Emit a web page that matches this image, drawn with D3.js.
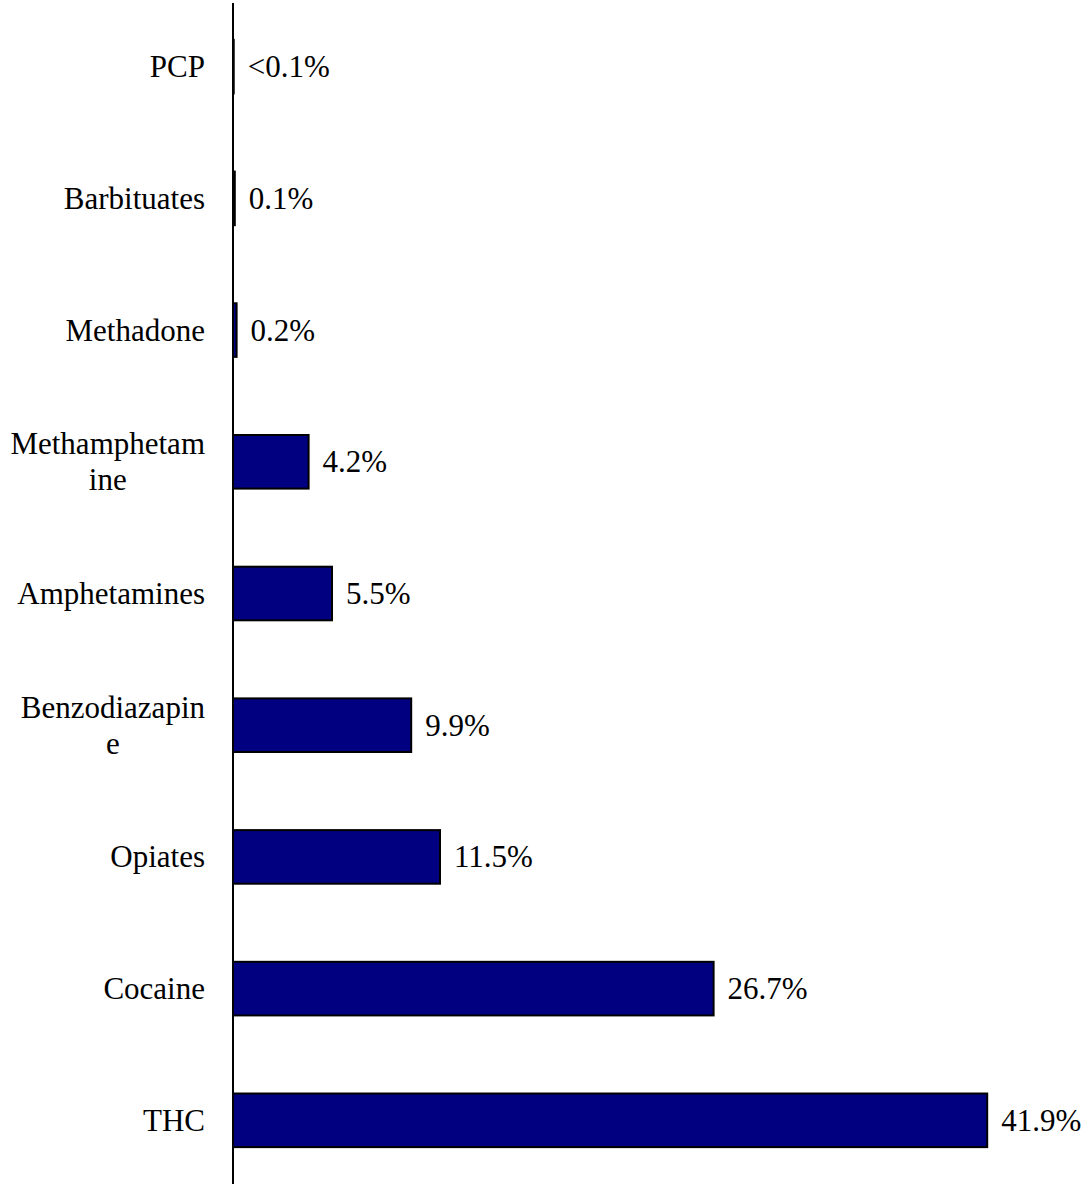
<!DOCTYPE html>
<html>
<head>
<meta charset="utf-8">
<script src="https://cdn.jsdelivr.net/npm/d3@7"></script>
<style>
body { margin: 0; background: #fff; }
text { font-family: "Liberation Serif", "Times New Roman", serif; font-size: 31px; fill: #000; }
</style>
</head>
<body>
<script>
// categories top to bottom, long names wrapped as in the original
var categories = ["PCP", "Barbituates", "Methadone", "Methamphetam\nine", "Amphetamines",
                  "Benzodiazapin\ne", "Opiates", "Cocaine", "THC"];
var values = [0.04, 0.1, 0.2, 4.2, 5.5, 9.9, 11.5, 26.7, 41.9];
var valueLabels = ["<0.1%", "0.1%", "0.2%", "4.2%", "5.5%", "9.9%", "11.5%", "26.7%", "41.9%"];

var width = 1082, height = 1186;
var axisX = 233, labelRight = 205;

var svg = d3.select("body").append("svg")
    .attr("width", width)
    .attr("height", height);

var x = d3.scaleLinear().domain([0, 45]).range([axisX, axisX + 45 * 18]);
var y = d3.scaleBand().domain(d3.range(categories.length))
    .range([3, 1184])
    .paddingInner(0.593)
    .paddingOuter(0.28);

// bars
svg.selectAll("rect.bar")
    .data(values)
    .enter()
    .append("rect")
    .attr("class", "bar")
    .attr("x", x(0))
    .attr("y", (d, i) => y(i))
    .attr("width", d => x(d) - x(0))
    .attr("height", y.bandwidth())
    .style("fill", "#000080")
    .style("stroke", "#000")
    .style("stroke-width", 2);

// value labels
svg.selectAll("text.value")
    .data(values)
    .enter()
    .append("text")
    .attr("class", "value")
    .attr("x", d => x(d) + 14)
    .attr("y", (d, i) => y(i) + y.bandwidth() / 2 + 10.5)
    .text((d, i) => valueLabels[i]);

// category labels, each line centred, block right aligned to the axis
var lineHeight = 36;
categories.forEach(function(name, i) {
    var lines = name.split("\n");
    var cy = y(i) + y.bandwidth() / 2 + 10.5 - (lines.length - 1) * lineHeight / 2;
    var t = svg.append("text").attr("class", "cat").attr("text-anchor", "middle");
    lines.forEach(function(line, j) {
        t.append("tspan").attr("x", 0).attr("y", cy + j * lineHeight).text(line);
    });
    var w = d3.max(t.selectAll("tspan").nodes(), n => n.getComputedTextLength());
    t.selectAll("tspan").attr("x", labelRight - w / 2);
});

// vertical axis line
svg.append("line")
    .attr("x1", axisX).attr("x2", axisX)
    .attr("y1", y.range()[0]).attr("y2", y.range()[1])
    .style("stroke", "#000")
    .style("stroke-width", 2);
</script>
</body>
</html>
